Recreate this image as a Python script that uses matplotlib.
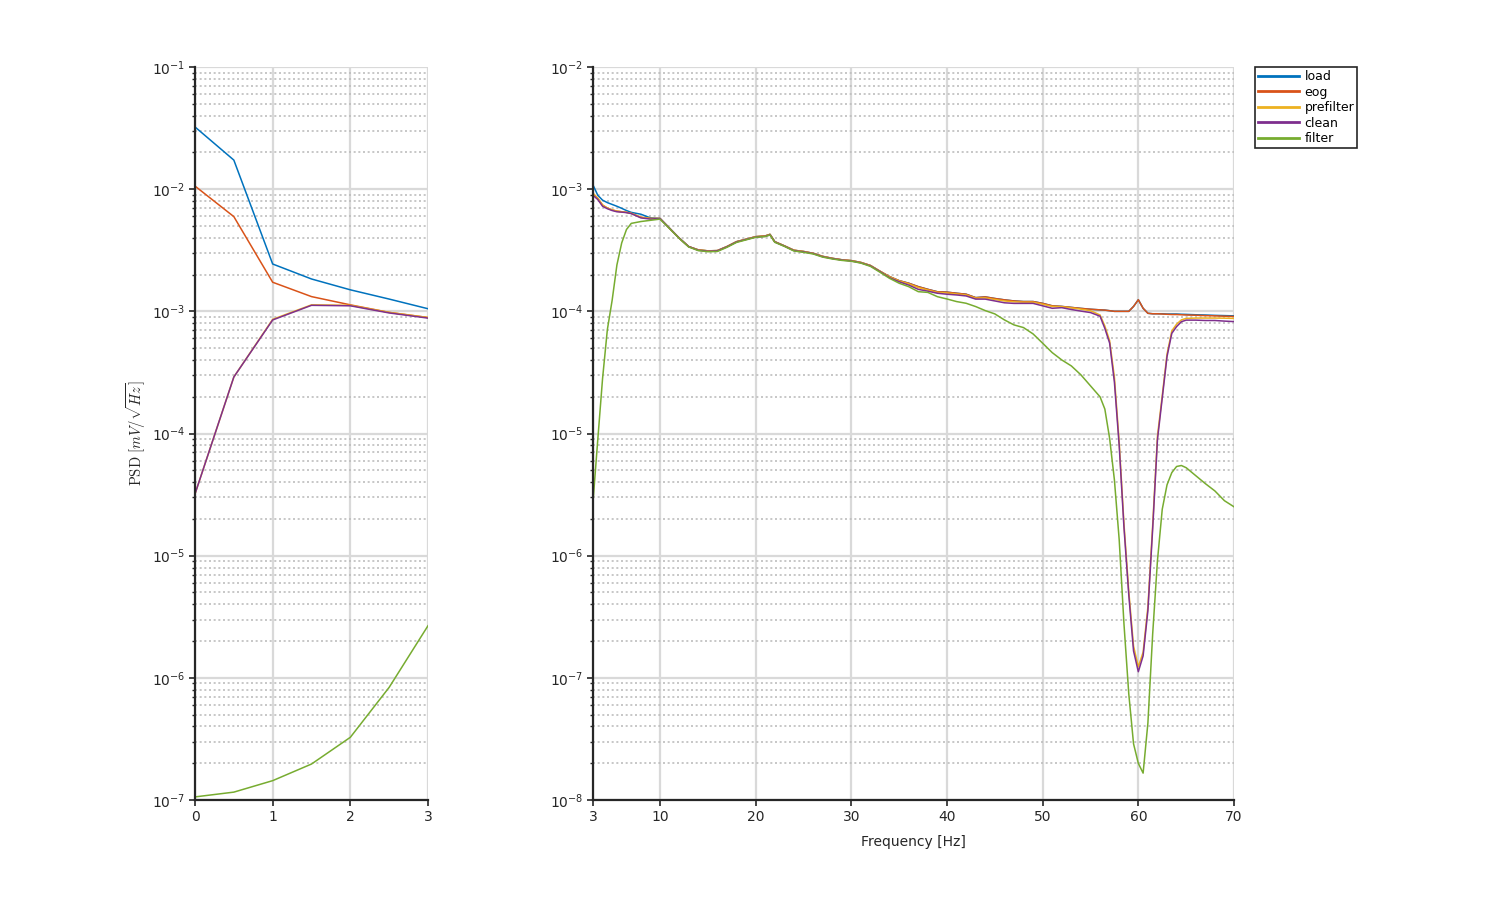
import numpy as np
import matplotlib
matplotlib.use('Agg')
import matplotlib.pyplot as plt
from matplotlib.ticker import NullFormatter

plt.rcParams['font.family'] = ['DejaVu Sans']
plt.rcParams['mathtext.fontset'] = 'cm'

colors = ['#0072BD', '#D95319', '#EDB120', '#7E2F8E', '#77AC30']
names = ['load', 'eog', 'prefilter', 'clean', 'filter']

# ---- left panel (0-3 Hz), values in mV/sqrt(Hz)
freq_l = [0, 0.5, 1, 1.5, 2, 2.5, 3]
load_l = [3.23e-2, 1.73e-2, 2.44e-3, 1.84e-3, 1.50e-3, 1.26e-3, 1.05e-3]
eog_l = [1.06e-2, 5.96e-3, 1.73e-3, 1.32e-3, 1.13e-3, 9.8e-4, 8.9e-4]
prefilter_l = [3.2e-5, 2.9e-4, 8.6e-4, 1.13e-3, 1.12e-3, 9.8e-4, 8.9e-4]
clean_l = [3.2e-5, 2.9e-4, 8.5e-4, 1.12e-3, 1.11e-3, 9.7e-4, 8.8e-4]
filter_l = [1.06e-7, 1.16e-7, 1.44e-7, 1.97e-7, 3.26e-7, 8.36e-7, 2.67e-6]

# ---- right panel (3-70 Hz), values as log10(PSD)
freq_r = [3, 3.5, 4, 4.5, 5, 5.5, 6, 6.5, 7, 8, 9, 10, 11, 12, 13, 14, 15, 16,
          17, 18, 19, 20, 21, 21.5, 22, 23, 24, 25, 26, 27, 28, 29, 30, 31, 32,
          33, 34, 35, 36, 37, 38, 39, 40, 41, 42, 43, 44, 45, 46, 47, 48, 49,
          50, 51, 52, 53, 54, 55, 56, 56.5, 57, 57.5, 58, 58.5, 59, 59.5, 60,
          60.5, 61, 61.5, 62, 62.5, 63, 63.5, 64, 64.5, 65, 66, 67, 68, 69, 70]

load_r = [-2.966, -3.05, -3.09, -3.11, -3.125, -3.14, -3.157, -3.175, -3.19,
          -3.205, -3.235, -3.24, -3.32, -3.40, -3.47, -3.497, -3.505, -3.503,
          -3.47, -3.43, -3.41, -3.389, -3.383, -3.37, -3.43, -3.464, -3.50,
          -3.51, -3.525, -3.55, -3.566, -3.578, -3.585, -3.60, -3.625, -3.672,
          -3.716, -3.749, -3.77, -3.798, -3.82, -3.84, -3.843, -3.852, -3.86,
          -3.888, -3.882, -3.895, -3.906, -3.915, -3.92, -3.92, -3.935, -3.955,
          -3.96, -3.968, -3.976, -3.983, -3.988, -3.99, -3.995, -4.0, -4.0,
          -4.0, -4.0, -3.96, -3.905, -3.975, -4.016, -4.02, -4.02, -4.02,
          -4.022, -4.022, -4.022, -4.024, -4.025, -4.028, -4.03, -4.033,
          -4.035, -4.037]

eog_r = [-3.035, -3.075, -3.13, -3.155, -3.17, -3.18, -3.185, -3.19, -3.198,
         -3.23, -3.24, -3.24, -3.32, -3.40, -3.47, -3.497, -3.505, -3.503,
         -3.47, -3.43, -3.41, -3.389, -3.383, -3.37, -3.43, -3.464, -3.50,
         -3.51, -3.525, -3.55, -3.566, -3.578, -3.585, -3.60, -3.625, -3.672,
         -3.716, -3.749, -3.77, -3.798, -3.82, -3.84, -3.843, -3.852, -3.86,
         -3.888, -3.882, -3.895, -3.906, -3.915, -3.92, -3.92, -3.935, -3.955,
         -3.96, -3.968, -3.976, -3.983, -3.988, -3.99, -3.995, -4.0, -4.0,
         -4.0, -4.0, -3.96, -3.905, -3.975, -4.016, -4.02, -4.02, -4.022,
         -4.024, -4.026, -4.026, -4.028, -4.03, -4.032, -4.035, -4.037,
         -4.04, -4.042]

prefilter_r = [-3.035, -3.075, -3.13, -3.155, -3.17, -3.18, -3.185, -3.19,
               -3.198, -3.23, -3.24, -3.24, -3.32, -3.40, -3.47, -3.497,
               -3.505, -3.503, -3.47, -3.43, -3.41, -3.389, -3.383, -3.37,
               -3.43, -3.464, -3.50, -3.51, -3.525, -3.55, -3.566, -3.578,
               -3.585, -3.60, -3.625, -3.672, -3.718, -3.751, -3.775, -3.805,
               -3.826, -3.845, -3.85, -3.858, -3.866, -3.892, -3.89, -3.903,
               -3.915, -3.922, -3.925, -3.925, -3.942, -3.96, -3.962, -3.972,
               -3.982, -3.995, -4.03, -4.12, -4.24, -4.54, -5.07, -5.74, -6.29,
               -6.74, -6.91, -6.79, -6.42, -5.75, -5.02, -4.69, -4.35, -4.16,
               -4.105, -4.07, -4.058, -4.055, -4.055, -4.055, -4.056, -4.058]

clean_r = [-3.05, -3.085, -3.14, -3.16, -3.175, -3.185, -3.188, -3.192, -3.2,
           -3.235, -3.245, -3.24, -3.32, -3.40, -3.47, -3.50, -3.508, -3.505,
           -3.472, -3.432, -3.412, -3.392, -3.386, -3.373, -3.432, -3.466,
           -3.503, -3.513, -3.527, -3.553, -3.568, -3.58, -3.588, -3.603,
           -3.628, -3.675, -3.725, -3.758, -3.785, -3.82, -3.835, -3.852,
           -3.86, -3.866, -3.874, -3.90, -3.90, -3.915, -3.93, -3.935, -3.935,
           -3.935, -3.955, -3.975, -3.97, -3.985, -3.998, -4.01, -4.04, -4.14,
           -4.26, -4.58, -5.10, -5.77, -6.32, -6.78, -6.95, -6.82, -6.45,
           -5.78, -5.05, -4.71, -4.37, -4.18, -4.125, -4.085, -4.072, -4.072,
           -4.075, -4.075, -4.08, -4.084]

filter_r = [-5.56, -5.05, -4.55, -4.15, -3.91, -3.62, -3.44, -3.33, -3.28,
            -3.265, -3.255, -3.245, -3.322, -3.402, -3.473, -3.503, -3.512,
            -3.51, -3.476, -3.436, -3.415, -3.394, -3.388, -3.375, -3.435,
            -3.468, -3.506, -3.517, -3.53, -3.556, -3.571, -3.583, -3.59,
            -3.605, -3.632, -3.68, -3.73, -3.77, -3.798, -3.839, -3.845,
            -3.88, -3.899, -3.92, -3.934, -3.961, -3.994, -4.021, -4.07,
            -4.111, -4.133, -4.185, -4.261, -4.338, -4.398, -4.447, -4.52,
            -4.61, -4.70, -4.80, -5.04, -5.38, -5.87, -6.56, -7.13, -7.54,
            -7.70, -7.78, -7.37, -6.64, -6.04, -5.62, -5.42, -5.32, -5.27,
            -5.262, -5.28, -5.345, -5.41, -5.47, -5.55, -5.60]

left_series = [load_l, eog_l, prefilter_l, clean_l, filter_l]
right_series = [load_r, eog_r, prefilter_r, clean_r, filter_r]

fig = plt.figure(figsize=(15, 9), dpi=100)
ax1 = fig.add_axes([195 / 1500, 1 - 800 / 900, 233 / 1500, 733 / 900])
ax2 = fig.add_axes([593 / 1500, 1 - 800 / 900, 641 / 1500, 733 / 900])

for idx, vals in enumerate(left_series):
    ax1.plot(freq_l, vals, color=colors[idx], lw=1.1)

handles = []
for idx, vals in enumerate(right_series):
    h, = ax2.plot(freq_r, 10 ** np.array(vals), color=colors[idx], lw=1.1, label=names[idx])
    handles.append(h)


def style(ax, xlim, ylim, xticks, decades):
    ax.set_yscale('log')
    ax.set_xlim(*xlim)
    ax.set_ylim(*ylim)
    ax.set_xticks(xticks)
    ax.set_yticks([10.0 ** d for d in decades])
    ax.yaxis.set_minor_formatter(NullFormatter())
    ax.grid(True, which='major', color='#d9d9d9', lw=1.6, ls='-')
    ax.grid(True, which='minor', axis='y', color='#bdbdbd', lw=1.2, ls=(0, (1.2, 1.6)))
    ax.set_axisbelow(True)
    for s in ['top', 'right']:
        ax.spines[s].set_visible(False)
    for s in ['left', 'bottom']:
        ax.spines[s].set_color('#262626')
        ax.spines[s].set_linewidth(1.6)
    ax.tick_params(which='major', direction='out', length=4, width=1.2,
                   colors='#262626', labelsize=10, pad=3)
    ax.tick_params(which='minor', direction='out', length=2.5, width=1.0,
                   colors='#262626')
    ax.tick_params(axis='x', which='minor', bottom=False)


style(ax1, (0, 3), (1e-7, 1e-1), [0, 1, 2, 3], range(-7, 0))
style(ax2, (3, 70), (1e-8, 1e-2), [3, 10, 20, 30, 40, 50, 60, 70], range(-8, -1))

ax1.set_ylabel(r'$\mathrm{PSD}\ [mV/\sqrt{Hz}]$', fontsize=10.5, color='#262626')
ax1.yaxis.set_label_coords(-47 / 233, 0.5)
ax2.set_xlabel('Frequency [Hz]', fontsize=10, color='#262626')
ax2.xaxis.set_label_coords(0.5, -35 / 733)

leg = fig.legend(handles=handles, loc='upper left',
                 bbox_to_anchor=(1255 / 1500, 1 - 67 / 900), fontsize=9,
                 frameon=True, fancybox=False, framealpha=1, edgecolor='#262626',
                 handlelength=3.3, handletextpad=0.4, labelspacing=0.2,
                 borderpad=0.25, borderaxespad=0)
leg.get_frame().set_linewidth(1.2)
for line in leg.get_lines():
    line.set_linewidth(2)

fig.savefig('out.png', dpi=100)
